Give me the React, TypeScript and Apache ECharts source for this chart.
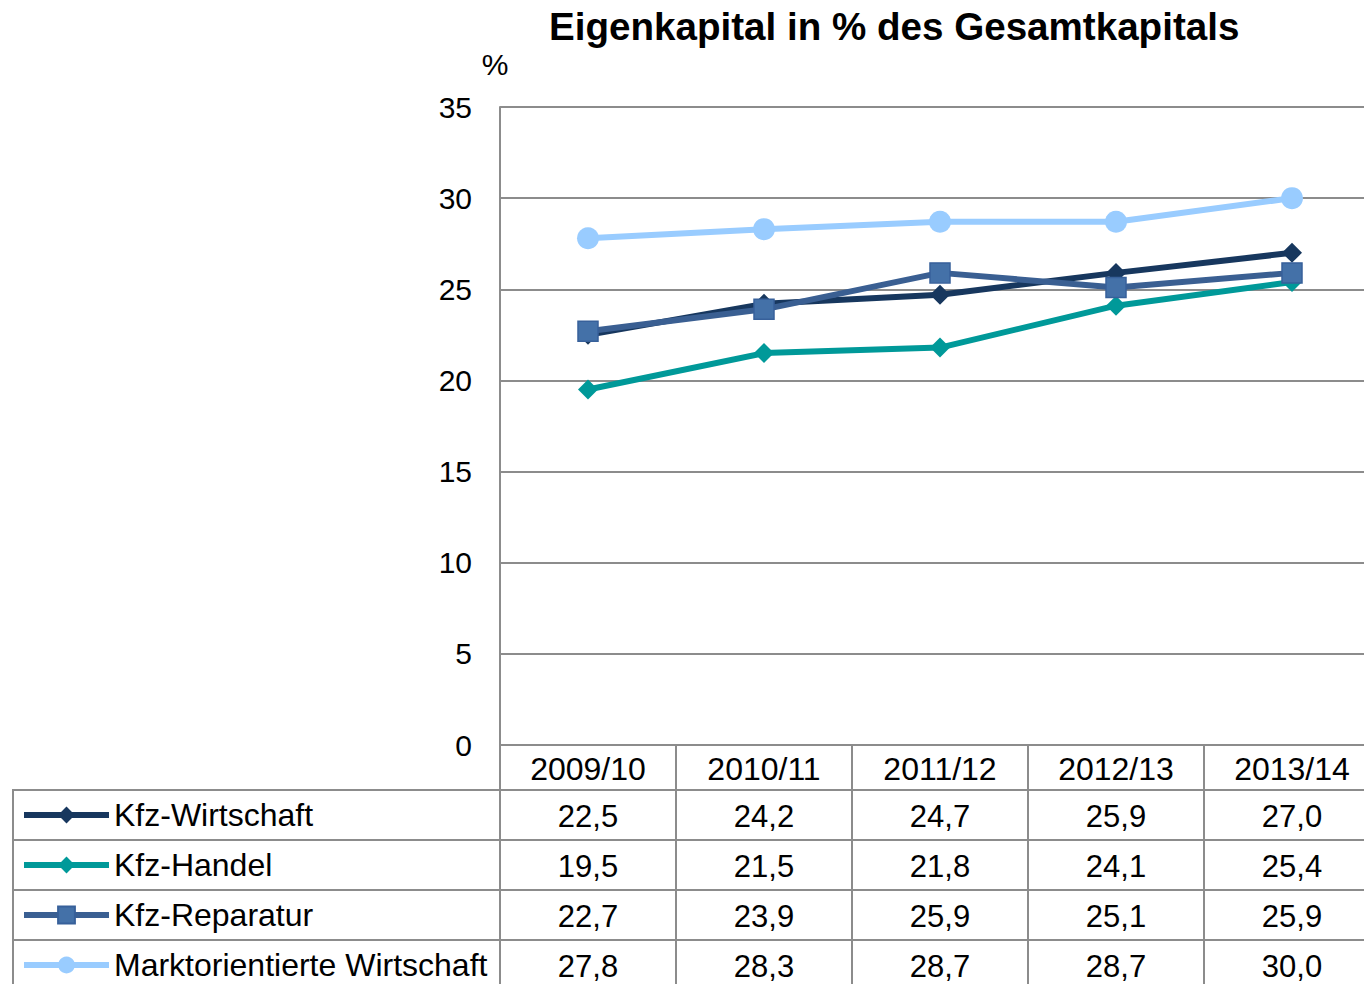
import React, { useEffect, useRef } from "react";
import * as echarts from "echarts";

const categories = ["2009/10", "2010/11", "2011/12", "2012/13", "2013/14"];
const kfzWirtschaft = [22.5, 24.2, 24.7, 25.9, 27.0];
const kfzHandel = [19.5, 21.5, 21.8, 24.1, 25.4];
const kfzReparatur = [22.7, 23.9, 25.9, 25.1, 25.9];
const marktWirtschaft = [27.8, 28.3, 28.7, 28.7, 30.0];
const seriesNames = ["Kfz-Wirtschaft", "Kfz-Handel", "Kfz-Reparatur", "Marktorientierte Wirtschaft"];
const seriesValues = [kfzWirtschaft, kfzHandel, kfzReparatur, marktWirtschaft];
const titleText = "Eigenkapital in % des Gesamtkapitals";
const yUnit = "%";

const FONT = "'Liberation Sans', Arial, Helvetica, sans-serif";
const GRID = "#8c8c8c";

const fmt = (v: number) => v.toFixed(1).replace(".", ",");

export default function App() {
  const ref = useRef<HTMLDivElement>(null);

  useEffect(() => {
    document.body.style.margin = "0";
    if (!ref.current) return;
    const chart = echarts.init(ref.current, null, { renderer: "svg" });
    const chartW = 1380;
    const gridLeft = 500;
    const gridTop = 107;
    const axisY = 745;
    const headerBottom = 790;
    const rowH = 50;
    const tableBottom = 984;

    const styles = [
      { color: "#17375E", symbol: "diamond", size: 20, border: "#17375E" },
      { color: "#009999", symbol: "diamond", size: 20, border: "#009999" },
      { color: "#3A5F92", symbol: "rect", size: 20, border: "#37609A", fill: "#4471A8" },
      { color: "#99CCFF", symbol: "circle", size: 22, border: "#99CCFF" },
    ];

    chart.setOption({
      animation: false,
      textStyle: { fontFamily: FONT },
      title: {
        text: titleText,
        left: 549,
        top: 7,
        padding: 0,
        textStyle: { fontSize: 38.6, fontWeight: "bold", color: "#000", fontFamily: FONT },
      },
      legend: {
        orient: "vertical",
        left: 21,
        top: headerBottom,
        height: 260,
        padding: 0,
        itemGap: 0,
        itemWidth: 85,
        itemHeight: 21,
        data: seriesNames,
        lineStyle: { width: 6 },
        textStyle: { fontSize: 32, color: "#000", lineHeight: rowH, fontFamily: FONT },
        selectedMode: false,
      },
      grid: { left: gridLeft, top: gridTop, right: 0, bottom: 984 - axisY, containLabel: false },
      xAxis: {
        type: "category",
        data: categories,
        boundaryGap: true,
        axisLine: { show: true, lineStyle: { color: GRID, width: 2 } },
        axisTick: { show: true, length: headerBottom - axisY, interval: 0, lineStyle: { color: GRID, width: 2 } },
        axisLabel: { fontSize: 32, color: "#000", margin: 8, fontFamily: FONT, interval: 0 },
      },
      yAxis: {
        type: "value",
        min: 0,
        max: 35,
        interval: 5,
        name: yUnit,
        nameLocation: "end",
        nameGap: 28,
        nameTextStyle: { fontSize: 30, color: "#000", fontFamily: FONT, padding: [0, 10, 0, 0] },
        axisLine: { show: true, lineStyle: { color: GRID, width: 2 } },
        axisTick: { show: false },
        axisLabel: { fontSize: 30, color: "#000", margin: 28, fontFamily: FONT },
        splitLine: { show: true, lineStyle: { color: GRID, width: 2 } },
      },
      series: seriesNames.map((name, i) => ({
        name,
        type: "line",
        data: seriesValues[i],
        symbol: styles[i].symbol,
        symbolSize: styles[i].size,
        showAllSymbol: true,
        lineStyle: { color: styles[i].color, width: 6 },
        itemStyle: {
          color: styles[i].fill || styles[i].color,
          borderColor: styles[i].border,
          borderWidth: styles[i].fill ? 1.5 : 0,
        },
        emphasis: { disabled: true },
        z: 3 + i,
      })),
    });

    const centers = categories.map((c) => chart.convertToPixel({ xAxisIndex: 0 }, c) as number);
    const bounds: number[] = [gridLeft];
    for (let i = 0; i < centers.length - 1; i++) bounds.push((centers[i] + centers[i + 1]) / 2);
    bounds.push(chartW);

    const lineEl = (x1: number, y1: number, x2: number, y2: number) => ({
      type: "line",
      silent: true,
      shape: { x1, y1, x2, y2 },
      style: { stroke: GRID, lineWidth: 2 },
      z: 1,
    });

    const graphics: any[] = [];
    for (let r = 0; r < seriesNames.length; r++) {
      const y = headerBottom + r * rowH;
      graphics.push(lineEl(13, y, chartW, y));
    }
    graphics.push(lineEl(13, headerBottom - 1, 13, tableBottom));
    graphics.push(lineEl(gridLeft, axisY, gridLeft, tableBottom));
    for (let i = 1; i < bounds.length - 1; i++) graphics.push(lineEl(bounds[i], headerBottom, bounds[i], tableBottom));

    seriesValues.forEach((vals, r) => {
      vals.forEach((v, i) => {
        graphics.push({
          type: "text",
          silent: true,
          x: centers[i],
          y: headerBottom + r * rowH + rowH / 2 + 1,
          style: {
            text: fmt(v),
            fontSize: 31,
            fontFamily: FONT,
            fill: "#000",
            align: "center",
            verticalAlign: "middle",
          },
          z: 2,
        });
      });
    });

    chart.setOption({ graphic: graphics });

    return () => chart.dispose();
  }, []);

  return (
    <div style={{ position: "absolute", left: 0, top: 0, width: 1364, height: 984, overflow: "hidden", background: "#fff" }}>
      <div ref={ref} style={{ width: 1380, height: 984 }} />
    </div>
  );
}
